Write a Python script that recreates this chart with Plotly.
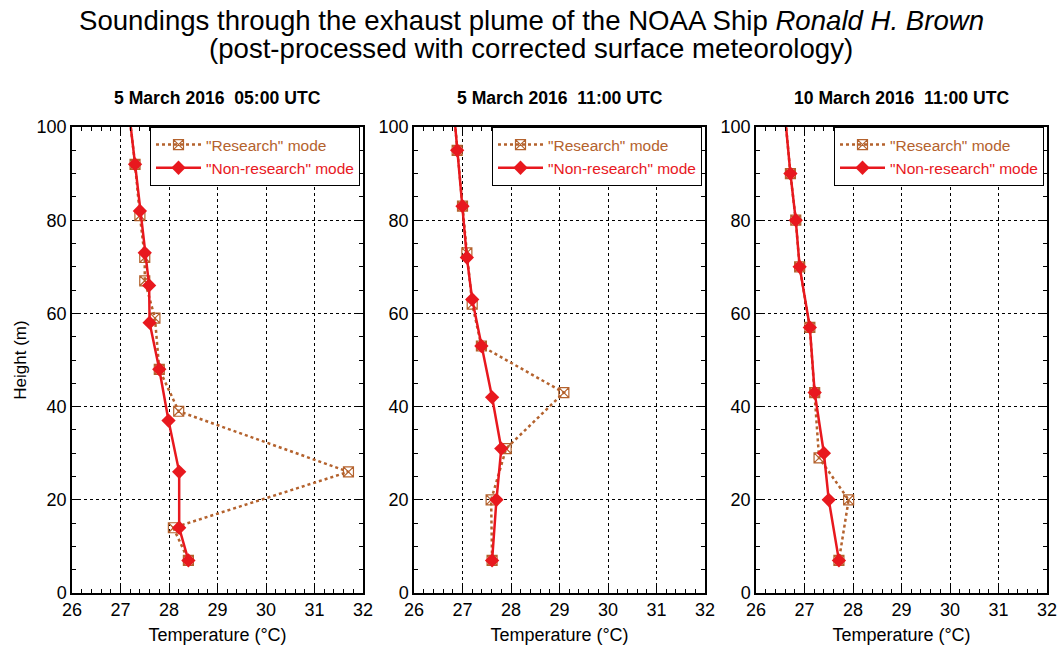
import plotly.graph_objects as go

# Temperature soundings (°C) versus height (m) for three launches
panel_titles = [
    "5 March 2016\u00a0 05:00 UTC",
    "5 March 2016\u00a0 11:00 UTC",
    "10 March 2016\u00a0 11:00 UTC",
]

# 5 March 2016 05:00 UTC
research_h_1 = [110, 92, 81, 72, 67, 59, 48, 39, 26, 14, 7]
research_t_1 = [27.10, 27.30, 27.40, 27.50, 27.50, 27.71, 27.80, 28.20, 31.70, 28.09, 28.40]
normal_h_1 = [110, 92, 82, 73, 66, 58, 48, 37, 26, 14, 7]
normal_t_1 = [27.10, 27.30, 27.40, 27.50, 27.59, 27.60, 27.80, 27.99, 28.21, 28.21, 28.40]

# 5 March 2016 11:00 UTC
research_h_2 = [106, 95, 83, 73, 62, 53, 43, 31, 20, 7]
research_t_2 = [26.80, 26.89, 27.00, 27.09, 27.20, 27.39, 29.09, 27.90, 27.59, 27.61]
normal_h_2 = [106, 95, 83, 72, 63, 53, 42, 31, 20, 7]
normal_t_2 = [26.80, 26.89, 27.00, 27.09, 27.20, 27.39, 27.61, 27.80, 27.70, 27.61]

# 10 March 2016 11:00 UTC
research_h_3 = [110, 90, 80, 70, 57, 43, 29, 20, 7]
research_t_3 = [26.53, 26.71, 26.82, 26.90, 27.11, 27.21, 27.30, 27.91, 27.71]
normal_h_3 = [110, 90, 80, 70, 57, 43, 30, 20, 7]
normal_t_3 = [26.53, 26.71, 26.82, 26.90, 27.11, 27.21, 27.40, 27.50, 27.71]

research = [(research_t_1, research_h_1), (research_t_2, research_h_2), (research_t_3, research_h_3)]
normal = [(normal_t_1, normal_h_1), (normal_t_2, normal_h_2), (normal_t_3, normal_h_3)]

research_name = '"Research" mode'
normal_name = '"Non-research" mode'

BROWN = "#b4622d"
RED = "#e8181e"
FONT = "Liberation Sans, Arial, sans-serif"

W, H = 1060, 650
x_px = [(72, 363), (414, 705), (756, 1047)]
y_px = (127, 593)
legend_right_px = [360, 702, 1044]

fig = go.Figure()
legend_ids = ["legend", "legend2", "legend3"]

for i in range(3):
    sfx = "" if i == 0 else str(i + 1)
    xa, ya = "x" + sfx, "y" + sfx
    rt, rh = research[i]
    nt, nh = normal[i]
    fig.add_trace(go.Scatter(
        x=rt, y=rh, xaxis=xa, yaxis=ya, mode="lines+markers",
        name=f'<span style="color:{BROWN}">{research_name}</span>',
        line=dict(color=BROWN, width=2.5, dash="dot"),
        marker=dict(symbol="square-x-open", size=10, color=BROWN, line=dict(width=1.2, color=BROWN)),
        legend=legend_ids[i],
    ))
    fig.add_trace(go.Scatter(
        x=nt, y=nh, xaxis=xa, yaxis=ya, mode="lines+markers",
        name=f'<span style="color:{RED}">{normal_name}</span>',
        line=dict(color=RED, width=2.5),
        marker=dict(symbol="diamond", size=11, color=RED, line=dict(width=0)),
        legend=legend_ids[i],
    ))

    axis_common = dict(
        showline=True, linecolor="black", linewidth=1.5, mirror="allticks",
        ticks="inside", ticklen=7, tickwidth=1.2, tickcolor="black",
        showgrid=True, gridcolor="black", gridwidth=1, griddash="dot",
        zeroline=False, automargin=False,
        tickfont=dict(family=FONT, size=18, color="black"),
    )
    x0, x1 = x_px[i]
    fig.layout["xaxis" + sfx] = dict(
        axis_common,
        domain=[x0 / W, x1 / W], anchor=ya, range=[26, 32], dtick=1, tick0=26,
        minor=dict(dtick=0.2, ticks="inside", ticklen=4, tickcolor="black", showgrid=False),
        title=dict(text="Temperature (°C)", font=dict(family=FONT, size=18, color="black"), standoff=9),
    )
    fig.layout["yaxis" + sfx] = dict(
        axis_common,
        domain=[1 - y_px[1] / H, 1 - y_px[0] / H], anchor=xa, range=[0, 100], dtick=20, tick0=0,
        minor=dict(dtick=5, ticks="inside", ticklen=4, tickcolor="black", showgrid=False),
        title=dict(text="Height (m)" if i == 0 else "", font=dict(family=FONT, size=17, color="black"), standoff=6),
    )

    fig.layout[legend_ids[i]] = dict(
        x=legend_right_px[i] / W, y=1 - y_px[0] / H, xanchor="right", yanchor="top",
        bgcolor="white", bordercolor="black", borderwidth=1,
        font=dict(family=FONT, size=15.5), itemwidth=45, tracegroupgap=0,
    )

    fig.add_annotation(
        text=f"<b>{panel_titles[i]}</b>", xref="paper", yref="paper",
        x=(x0 + x1) / 2 / W, y=1 - 98 / H, xanchor="center", yanchor="middle",
        showarrow=False, font=dict(family=FONT, size=17.6, color="black"),
    )

fig.add_annotation(
    text="Soundings through the exhaust plume of the NOAA Ship <i>Ronald H. Brown</i>",
    xref="paper", yref="paper", x=531 / W, y=1 - 21 / H, xanchor="center", yanchor="middle",
    showarrow=False, font=dict(family=FONT, size=27.6, color="black"),
)
fig.add_annotation(
    text="(post-processed with corrected surface meteorology)",
    xref="paper", yref="paper", x=531 / W, y=1 - 48 / H, xanchor="center", yanchor="middle",
    showarrow=False, font=dict(family=FONT, size=27.6, color="black"),
)

fig.update_layout(
    width=W, height=H, margin=dict(l=0, r=0, t=0, b=0, autoexpand=False),
    paper_bgcolor="white", plot_bgcolor="white",
    showlegend=True,
)

fig.write_html("out.html")
